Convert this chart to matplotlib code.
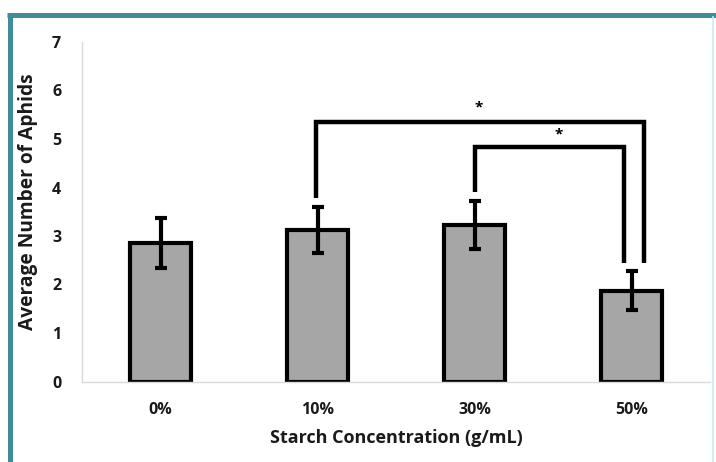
import matplotlib
matplotlib.use("Agg")
import matplotlib.pyplot as plt
from matplotlib.lines import Line2D

plt.rcParams['font.family'] = ['Open Sans', 'DejaVu Sans']

categories = ['0%', '10%', '30%', '50%']
means = [2.85, 3.12, 3.23, 1.87]
errors = [0.52, 0.47, 0.49, 0.40]
yticks = [0, 1, 2, 3, 4, 5, 6, 7]
# significance brackets: (left category, right category, top level, left leg bottom, right leg bottom, label)
brackets = [
    (1, 3, 5.36, 3.78, 2.44, '*'),
    (2, 3, 4.84, 3.91, 2.44, '*'),
]

fig = plt.figure(figsize=(7.16, 4.62), dpi=100)
W, H = 716, 462
ax = fig.add_axes([82 / W, 1 - 381.5 / H, (710 - 82) / W, (381.5 - 42) / H])

x = list(range(len(categories)))
ax.bar(x, means, width=0.39, color='#a6a6a6', edgecolor='black', linewidth=3.0, zorder=2)
ax.errorbar(x, means, yerr=errors, fmt='none', ecolor='black', elinewidth=3.0,
            capsize=4.5, capthick=3.0, zorder=3)

offsets = {(1, 3): (-0.01, 0.08), (2, 3): (0.0, -0.05)}
star_pos = {(1, 3): (-0.01, 0.30), (2, 3): (0.06, 0.26)}
for (a, b, top, lb, rb, lab) in brackets:
    ol, orr = offsets[(a, b)]
    xl, xr = a + ol, b + orr
    ax.plot([xl, xl, xr, xr], [lb, top, top, rb], color='black', lw=3.2,
            solid_joinstyle='miter', solid_capstyle='butt', zorder=4, clip_on=False)
    dx, dy = star_pos[(a, b)]
    ax.text((xl + xr) / 2 + dx, top + dy, lab, ha='center', va='center',
            fontsize=11, fontweight='bold', color='black')

ax.set_xlim(-0.5, 3.5)
ax.set_ylim(0, 7)
ax.set_yticks(yticks)
ax.set_yticklabels([str(t) for t in yticks])
ax.set_xticks(x)
ax.set_xticklabels(categories)
ax.tick_params(axis='both', length=0, labelsize=11.5, colors='#1a1a1a')
ax.tick_params(axis='x', pad=15)
ax.tick_params(axis='y', pad=15)
for lbl in ax.get_xticklabels() + ax.get_yticklabels():
    lbl.set_fontweight('bold')

for s in ['top', 'right']:
    ax.spines[s].set_visible(False)
for s in ['left', 'bottom']:
    ax.spines[s].set_color('#d9d9d9')
    ax.spines[s].set_linewidth(1.0)

ax.set_xlabel('Starch Concentration (g/mL)', fontsize=13, fontweight='bold',
              color='#1a1a1a', labelpad=8)
ax.set_ylabel('Average Number of Aphids', fontsize=13.8, fontweight='bold',
              color='#1a1a1a')
ax.yaxis.set_label_coords(-0.070, 0.53)

# frame around figure
teal = '#3f8c9c'
fig.add_artist(Line2D([7 / W, 1.0], [1 - 14.5 / H, 1 - 14.5 / H], color=teal, lw=3.6,
                      transform=fig.transFigure, solid_capstyle='butt'))
fig.add_artist(Line2D([9.5 / W, 9.5 / W], [1 - 12.5 / H, 0.0], color=teal, lw=3.6,
                      transform=fig.transFigure, solid_capstyle='butt'))
fig.add_artist(Line2D([712.5 / W, 712.5 / W], [1 - 17 / H, 0.0], color='#cdeef4', lw=1.2,
                      transform=fig.transFigure))

fig.savefig('out.png', dpi=100)
